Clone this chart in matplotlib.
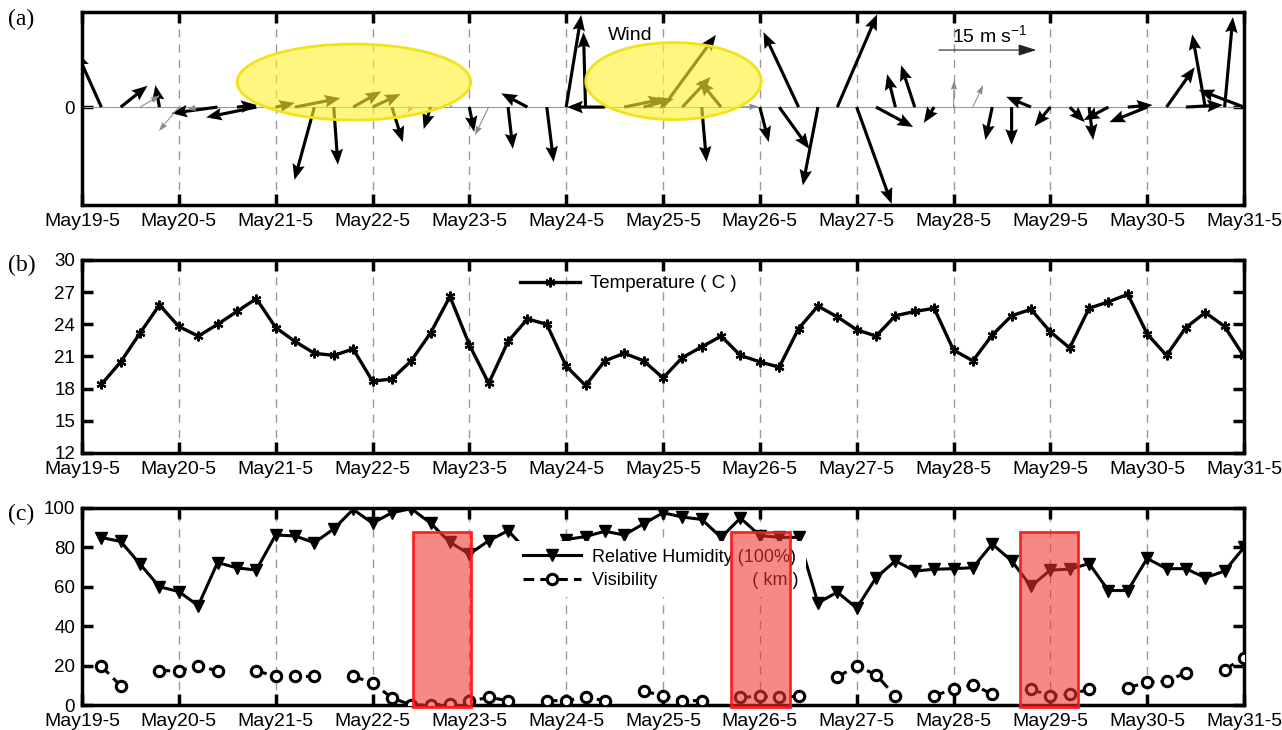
import numpy as np
import matplotlib
matplotlib.use("Agg")
import matplotlib.pyplot as plt
from matplotlib.patches import Ellipse, Rectangle

plt.rcParams['font.family'] = ['Liberation Sans', 'DejaVu Sans']

# ---------------- data ----------------
day_labels = ['May19-5', 'May20-5', 'May21-5', 'May22-5', 'May23-5', 'May24-5', 'May25-5',
              'May26-5', 'May27-5', 'May28-5', 'May29-5', 'May30-5', 'May31-5']
# sample times, days after May19-5 (every 0.2 day)
times = np.arange(1, 61) * 0.2

wind_u = [-3.6, 3.9, 2.9, -0.6, -2.9, -1.7, -6.7, 2.9, -7.3, 2.8,
          6.6, -2.9, 0.6, 4.1, 4.1, 1.6, -0.6, -1.0, 0.4, 0.7,
          -2.0, 0.7, -3.8, 1.0, 2.2, -0.3, -5.5, 5.8, 4.4, 7.7,
          4.1, 0.7, -3.2, 2.6, 1.3, 4.4, -5.1, -2.2, 5.8, 5.1,
          5.4, -1.2, -2.0, -1.5, 0.1, 1.5, -1.0, 0.0, -3.6, -2.3,
          2.2, 0.6, -3.6, 3.6, -5.5, 4.1, 5.4, -1.9, 1.2, -6.6]
wind_v = [8.0, 3.1, 1.7, 3.2, -3.5, -0.4, -0.9, 0.3, -1.5, 0.6,
          1.3, -10.6, -8.4, 2.3, 1.9, -5.1, -0.9, -3.2, 0.3, -3.6,
          -4.1, -6.1, 2.0, -8.0, 13.4, 10.9, 0.0, 1.2, 1.2, 10.5,
          4.4, -8.0, 3.9, 0.1, -5.1, -6.1, 10.9, -11.4, 13.5, -14.1,
          -2.9, 4.8, 6.1, -2.3, 3.9, 3.2, -4.8, -5.5, 1.5, -2.8,
          -2.2, -4.8, -1.9, 0.3, -2.2, 5.8, 0.3, 10.6, 13.1, 2.5]
# samples drawn as light (weak / uncertain) vectors
weak_idx = [2, 4, 5, 16, 18, 20, 33, 44, 45]

temperature = [18.4, 20.5, 23.2, 25.8, 23.8, 22.9, 24.0, 25.2, 26.4, 23.7,
               22.4, 21.3, 21.1, 21.7, 18.7, 18.9, 20.6, 23.2, 26.6, 22.1,
               18.5, 22.4, 24.5, 24.0, 20.1, 18.3, 20.6, 21.3, 20.6, 19.0,
               20.9, 21.9, 22.9, 21.1, 20.5, 20.0, 23.6, 25.7, 24.7, 23.5,
               22.9, 24.8, 25.2, 25.5, 21.6, 20.6, 23.0, 24.8, 25.4, 23.3,
               21.8, 25.5, 26.1, 26.8, 23.1, 21.1, 23.7, 25.1, 23.8, 21.0]

rel_humidity = [85, 83, 71.5, 60, 57.6, 50.4, 72.3, 69.6, 68.5, 86.3,
                85.8, 82.4, 89.4, 99.3, 92.3, 97.6, 99.7, 92.3, 82.6, 76.6,
                83.4, 88.5, 78, 78, 84, 85.5, 88.2, 86.3, 92, 97.6,
                95.4, 94.2, 85.1, 94.9, 86, 85.1, 85.1, 51.8, 57.3, 49.2,
                64.6, 73.2, 68, 68.9, 69.2, 69.7, 81.7, 73.2, 60.3, 68.5,
                68.9, 71.8, 58.1, 58.1, 74.4, 69.2, 69.2, 64.6, 68, 80]

nan = np.nan
visibility = [19.7, 9.7, nan, 17.4, 17.4, 19.7, 17.4, nan, 17.4, 14.5,
              14.5, 14.5, nan, 14.5, 11.3, 3.6, 0.0, 0.0, 0.5, 1.9,
              3.9, 2.2, nan, 2.2, 2.2, 3.9, 2.2, nan, 7.0, 4.8,
              2.2, 2.2, nan, 3.9, 4.4, 3.9, 4.4, nan, 14.2, 19.8,
              15.4, 4.4, nan, 4.8, 7.9, 10.3, 5.5, nan, 7.9, 4.8,
              5.5, 7.9, nan, 8.7, 11.6, 12.0, 16.4, nan, 17.9, 24.1]

# highlighted periods (days after May19-5)
event_start = [3.42, 6.70, 9.69]
event_end = [4.02, 7.31, 10.29]

wind_ref_speed = 15  # m/s

# ---------------- figure ----------------
fig = plt.figure(figsize=(12.82, 7.30), dpi=100)
L, W = 82 / 1282, (1244 - 82) / 1282
axa = fig.add_axes([L, 1 - 205 / 730, W, (205 - 12) / 730])
axb = fig.add_axes([L, 1 - 453 / 730, W, (453 - 260) / 730])
axc = fig.add_axes([L, 1 - 705 / 730, W, (705 - 508) / 730])

for ax in (axa, axb, axc):
    ax.set_xlim(0, 12)
    ax.set_xticks(range(13))
    ax.set_xticklabels(day_labels)
    ax.tick_params(direction='in', length=8, width=2.5, top=True, right=True,
                   labelsize=14)
    ax.tick_params(axis='x', pad=6)
    ax.tick_params(axis='y', pad=5, labelsize=13.5)
    for s in ax.spines.values():
        s.set_linewidth(2.5)
    ax.xaxis.grid(True, linestyle=(0, (6, 5)), color='#999999', lw=1)
    ax.set_axisbelow(True)

# ---- (a) wind ----
axa.set_ylim(-1.03, 1)
axa.set_yticks([0])
axa.axhline(0, color='#999999', lw=0.8, zorder=1)
u = np.array(wind_u, float)
v = np.array(wind_v, float)
strong = np.ones(len(u), bool)
strong[weak_idx] = False
scale = 14.1
axa.quiver(times[strong], np.zeros(strong.sum()), u[strong], v[strong],
           angles='uv', scale_units='x', scale=scale, width=0.0027,
           headwidth=4.0, headlength=5.0, headaxislength=4.4, color='k', zorder=3)
axa.quiver(times[~strong], np.zeros((~strong).sum()), u[~strong], v[~strong],
           angles='uv', scale_units='x', scale=scale, width=0.0009,
           headwidth=6, headlength=9, headaxislength=8, color='#8a8a8a', zorder=3)
for cx, cy, w, h in [(0.234, 0.637, 0.201, 0.394), (0.509, 0.642, 0.151, 0.399)]:
    axa.add_patch(Ellipse((cx, cy), w, h, transform=axa.transAxes,
                          facecolor=(1, 0.95, 0.2, 0.62), edgecolor='#f2e21a',
                          lw=2, zorder=4))
kx0 = 8.82
axa.annotate('', xy=(kx0 + wind_ref_speed / scale, 0.60), xytext=(kx0, 0.60),
             arrowprops=dict(arrowstyle='-|>,head_length=1.1,head_width=0.35',
                             color='#222222', lw=0.8), zorder=5)
axa.text(8.98, 0.75, '15 m s$^{\\mathregular{-1}}$', fontsize=14, ha='left', va='center')
axa.text(5.43, 0.75, 'Wind', fontsize=14, ha='left', va='center')

# ---- (b) temperature ----
axb.set_ylim(12, 30)
axb.set_yticks(range(12, 31, 3))
axb.plot(times, temperature, color='k', lw=2.4, marker=(6, 2, 0), ms=7, mew=1.6,
         label='Temperature ( C )', zorder=3)
axb.legend(loc='center left', bbox_to_anchor=(0.377, 0.876), frameon=False,
           handlelength=3.2, handletextpad=0.55, borderpad=0, borderaxespad=0,
           fontsize=13.5)

# ---- (c) RH and visibility ----
axc.set_ylim(0, 100)
axc.set_yticks(range(0, 101, 20))
axc.plot(times, rel_humidity, color='k', lw=2.2, marker='v', ms=9,
         label='Relative Humidity (100%)', zorder=3)
axc.plot(times, visibility, color='k', lw=2.2, ls=(0, (3.5, 2)), marker='o', ms=7.5,
         mfc='white', mew=2.2, label='Visibility                   ( km )', zorder=3)
leg = axc.legend(loc='upper left', bbox_to_anchor=(0.3726, 0.835), frameon=True,
                 fancybox=False, facecolor='white', edgecolor='none', framealpha=1,
                 handlelength=3.2, handletextpad=0.6, borderpad=0.45,
                 borderaxespad=0, labelspacing=0.35, fontsize=13)
leg.set_zorder(5)
for x0, x1 in zip(event_start, event_end):
    axc.add_patch(Rectangle((x0, -1), x1 - x0, 89, facecolor=(0.95, 0.2, 0.2, 0.58),
                            edgecolor=(1, 0.1, 0.1, 0.95), lw=2, zorder=6,
                            clip_on=False))

for y, lab in [(0.973, '(a)'), (0.636, '(b)'), (0.295, '(c)')]:
    fig.text(0.006, y, lab, fontsize=17, family=['Liberation Serif', 'DejaVu Serif'],
             ha='left', va='center')

fig.savefig('out.png', dpi=100)
